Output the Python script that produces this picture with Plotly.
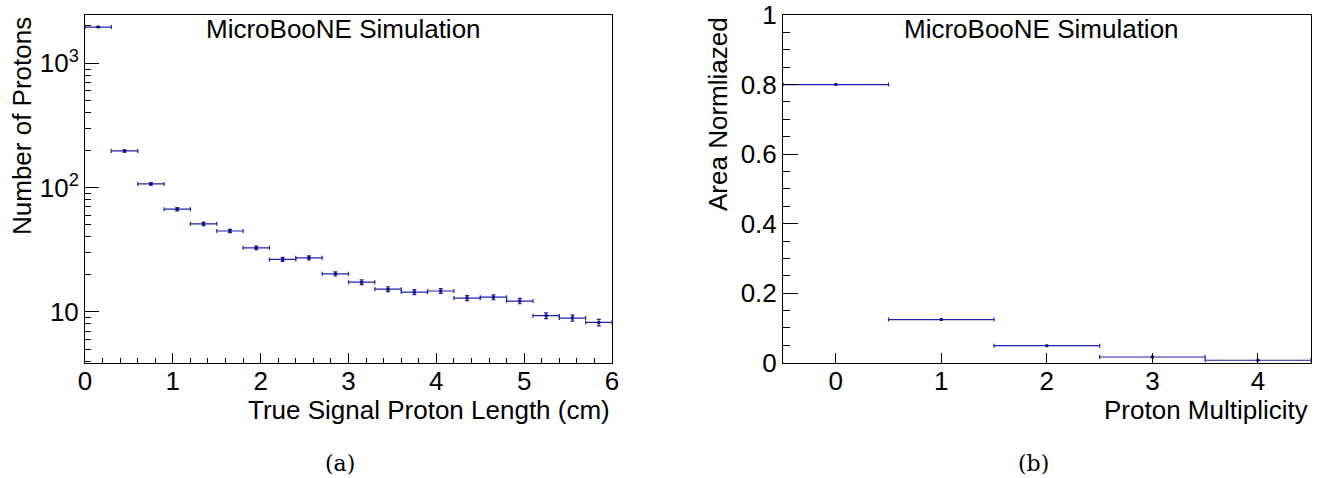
import plotly.graph_objects as go

# ---------------- data (a) ----------------
len_bin_lo = [0.0, 0.3, 0.6, 0.9, 1.2, 1.5, 1.8, 2.1, 2.4, 2.7,
              3.0, 3.3, 3.6, 3.9, 4.2, 4.5, 4.8, 5.1, 5.4, 5.7]
len_bin_width = 0.3
n_protons = [1958, 197, 107, 67, 51, 44.7, 32.7, 26.4, 27.2, 20.2,
             17.3, 15.2, 14.4, 14.7, 12.9, 13.1, 12.2, 9.3, 8.9, 8.2]
n_protons_err = [10, 4, 2.5, 2, 1.6, 1.4, 1.1, 1.0, 1.0, 0.8,
                 0.75, 0.7, 0.65, 0.65, 0.6, 0.6, 0.6, 0.5, 0.5, 0.5]

# ---------------- data (b) ----------------
multiplicity = [0, 1, 2, 3, 4]
area_norm = [0.800, 0.124, 0.049, 0.0164, 0.007]

x_centers = [lo + len_bin_width / 2 for lo in len_bin_lo]

BLUE = "#2020b0"
FONT = "Liberation Sans"
TICK_SIZE = 26
TITLE_SIZE = 26

fig = go.Figure()

fig.add_trace(go.Scatter(
    x=x_centers, y=n_protons, mode="markers",
    marker=dict(symbol="square", size=3, color="#10107a"),
    error_x=dict(type="constant", value=len_bin_width / 2, color=BLUE, thickness=1.2, width=2),
    error_y=dict(type="data", array=n_protons_err, color=BLUE, thickness=1.2, width=2),
    xaxis="x", yaxis="y", showlegend=False,
))

fig.add_trace(go.Scatter(
    x=multiplicity, y=area_norm, mode="markers",
    marker=dict(symbol="square", size=3, color="#10107a"),
    error_x=dict(type="constant", value=0.5, color=BLUE, thickness=1.2, width=2),
    xaxis="x2", yaxis="y2", showlegend=False,
))

W, H = 1323, 478
xd1 = [85 / W, 612 / W]
xd2 = [783 / W, 1310.7 / W]
yd = [1 - 362.7 / H, 1 - 15 / H]

axis_common = dict(
    showline=True, mirror=True, linecolor="black", linewidth=1,
    ticks="inside", tickcolor="black", showgrid=False, zeroline=False,
    automargin=False,
    tickfont=dict(family=FONT, size=TICK_SIZE, color="black"),
)

minor_log = [v * m for m in (1, 10, 100, 1000) for v in (2, 3, 4, 5, 6, 7, 8, 9)]
minor_log = [v for v in minor_log if 4 <= v < 2450]

fig.update_layout(
    width=W, height=H,
    margin=dict(l=0, r=0, t=0, b=0),
    paper_bgcolor="white", plot_bgcolor="white",
    xaxis=dict(domain=xd1, anchor="y", range=[0, 6], tickvals=[0, 1, 2, 3, 4, 5, 6],
               ticklen=10, tickwidth=1, ticklabelstandoff=-5,
               minor=dict(ticks="inside", dtick=0.2, ticklen=5, tickcolor="black", showgrid=False),
               **axis_common),
    yaxis=dict(domain=yd, anchor="x", type="log", range=[0.59, 3.389],
               tickvals=[10, 100, 1000], ticktext=["10", "10<sup>2</sup>", "10<sup>3</sup>"],
               ticklen=14, tickwidth=1,
               minor=dict(ticks="inside", tickvals=minor_log, ticklen=6, tickcolor="black", showgrid=False),
               **axis_common),
    xaxis2=dict(domain=xd2, anchor="y2", range=[-0.5, 4.5], tickvals=[0, 1, 2, 3, 4],
                ticklen=10, tickwidth=1, ticklabelstandoff=-5, **axis_common),
    yaxis2=dict(domain=yd, anchor="x2", range=[0, 1], tickvals=[0, 0.2, 0.4, 0.6, 0.8, 1],
                ticktext=["0", "0.2", "0.4", "0.6", "0.8", "1"],
                ticklen=15, tickwidth=1,
                minor=dict(ticks="inside", dtick=0.05, ticklen=7, tickcolor="black", showgrid=False),
                **axis_common),
)

tfont = dict(family=FONT, size=TITLE_SIZE, color="black")
ann = [
    dict(x=343, y=29, text="MicroBooNE Simulation"),
    dict(x=1041, y=29, text="MicroBooNE Simulation"),
    dict(x=612, y=410, text="True Signal Proton Length (cm)", xanchor="right"),
    dict(x=1310, y=410, text="Proton Multiplicity", xanchor="right"),
    dict(x=22, y=15, text="Number of Protons", textangle=-90, yanchor="top"),
    dict(x=718, y=15, text="Area Normliazed", textangle=-90, yanchor="top"),
]
for a in ann:
    d = dict(xref="paper", yref="paper", showarrow=False, font=tfont,
             xanchor=a.get("xanchor", "center"), yanchor=a.get("yanchor", "middle"),
             x=a["x"] / W, y=1 - a["y"] / H, text=a["text"], textangle=a.get("textangle", 0))
    fig.add_annotation(**d)

cfont = dict(family="DejaVu Serif", size=22, color="black")
for cx, txt in [(340, "(a)"), (1033, "(b)")]:
    fig.add_annotation(xref="paper", yref="paper", x=cx / W, y=1 - 463 / H, text=txt,
                       showarrow=False, font=cfont, xanchor="center", yanchor="middle")

fig.write_html("out.html", config={"displayModeBar": False},
               post_script="document.body.style.margin='0';document.body.style.overflow='hidden';")
